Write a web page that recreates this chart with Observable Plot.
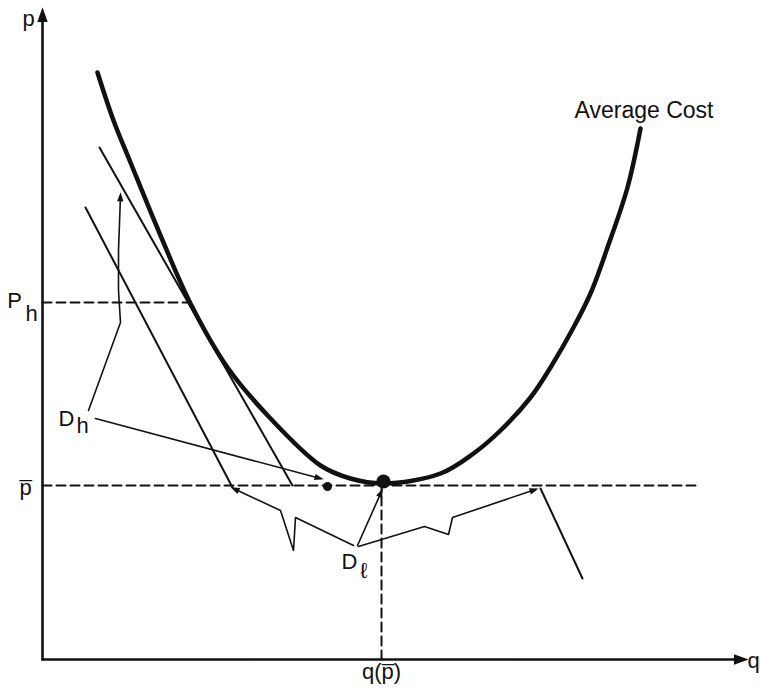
<!DOCTYPE html>
<html><head><meta charset="utf-8">
<script src="https://cdn.jsdelivr.net/npm/d3@7"></script>
<script src="https://cdn.jsdelivr.net/npm/@observablehq/plot@0.6"></script>
<style>body{margin:0;background:#fff}#chart svg{display:block}</style>
</head><body><div id="chart"></div>
<script>
// Average cost curve (q, p)
const acQ = [0.55,0.71,0.88,1.18,1.48,1.85,2.28,2.78,3.08,3.41,3.98,4.31,4.58,4.88,5.08,5.31,5.48,5.65,5.85,5.98];
const acP = [5.87,5.39,4.97,4.24,3.56,2.92,2.41,1.94,1.81,1.76,1.86,2.06,2.29,2.62,2.92,3.32,3.66,4.12,4.72,5.31];

// key levels
const pBar = 1.74, qBar = 3.39, pHigh = 3.57, qHigh = 1.46, qDashEnd = 6.53;

// demand curves (segments)
const demandQ1 = [0.57, 2.50], demandP1 = [5.12, 1.74];
const demandQ2 = [0.43, 1.90], demandP2 = [4.52, 1.72];
const demandQ3 = [4.98, 5.40], demandP3 = [1.71, 0.81];

// annotation leaders
const dhUpQ = [0.46,0.78,0.76,0.76,0.78], dhUpP = [2.49,3.37,3.69,4.09,4.64];
const dhRightQ = [0.53,2.78], dhRightP = [2.41,1.81];
const dlUpQ = [3.15,3.39], dlUpP = [1.14,1.68];
const dlLeftQ = [3.11,2.53,2.51,2.38,1.91], dlLeftP = [1.14,1.42,1.09,1.49,1.71];
const dlRightQ = [3.16,3.82,4.06,4.10,4.93], dlRightP = [1.13,1.33,1.25,1.42,1.70];

// points
const dotQ = [2.85, 3.41], dotP = [1.73, 1.78], dotR = [4.5, 7];

// labels
const labelText = ["p", "q", "p\u0305", "P", "h", "D", "h", "D", "\u2113", "q(p\u0305)", "Average Cost"];
const labelQ = [-0.14, 7.11, -0.17, -0.28, -0.11, 0.24, 0.40, 3.07, 3.21, 3.39, 5.32];
const labelP = [6.41, -0.01, 1.72, 3.59, 3.46, 2.41, 2.34, 0.98, 0.89, -0.12, 5.49];
const labelAnchor = ["middle","middle","middle","middle","middle","middle","middle","middle","middle","middle","start"];

const pts = (qs, ps) => qs.map((q, i) => ({q, p: ps[i]}));
const ac = pts(acQ, acP);
const labels = labelText.map((t, i) => ({t, q: labelQ[i], p: labelP[i], a: labelAnchor[i]}));
const dots = dotQ.map((q, i) => ({q, p: dotP[i], r: dotR[i]}));

const lineOpts = {x: "q", y: "p", stroke: "#111", strokeWidth: 1.6, markerEnd: "arrow"};

const chart = Plot.plot({
  width: 760, height: 688,
  marginTop: 0, marginRight: 0, marginBottom: 0, marginLeft: 0,
  x: {domain: [-0.42, 7.18], range: [0, 760], axis: null},
  y: {domain: [-0.29, 6.59], range: [688, 0], axis: null},
  r: {type: "identity"},
  style: {fontFamily: "'Liberation Sans', Arial, Helvetica, sans-serif", background: "#fff"},
  marks: [
    // axes
    Plot.line(pts([0, 0], [0, 6.47]), {x: "q", y: "p", stroke: "#111", strokeWidth: 2.6, markerEnd: "arrow"}),
    Plot.line(pts([0, 7.01], [0, 0]), {x: "q", y: "p", stroke: "#111", strokeWidth: 2.6, markerEnd: "arrow"}),
    // dashed guides
    Plot.line(pts([0, qDashEnd], [pBar, pBar]), {x: "q", y: "p", stroke: "#111", strokeWidth: 2, strokeDasharray: "9,5"}),
    Plot.line(pts([0, qHigh], [pHigh, pHigh]), {x: "q", y: "p", stroke: "#111", strokeWidth: 2, strokeDasharray: "9,5"}),
    Plot.line(pts([qBar, qBar], [0, pBar]), {x: "q", y: "p", stroke: "#111", strokeWidth: 2, strokeDasharray: "9,5"}),
    // average cost
    Plot.line(ac, {x: "q", y: "p", curve: "catmull-rom", stroke: "#111", strokeWidth: 4.5}),
    // demand curves
    Plot.line(pts(demandQ1, demandP1), {x: "q", y: "p", stroke: "#111", strokeWidth: 2}),
    Plot.line(pts(demandQ2, demandP2), {x: "q", y: "p", stroke: "#111", strokeWidth: 2}),
    Plot.line(pts(demandQ3, demandP3), {x: "q", y: "p", stroke: "#111", strokeWidth: 2}),
    // annotation leaders
    Plot.line(pts(dhUpQ, dhUpP), lineOpts),
    Plot.line(pts(dhRightQ, dhRightP), lineOpts),
    Plot.line(pts(dlUpQ, dlUpP), lineOpts),
    Plot.line(pts(dlLeftQ, dlLeftP), lineOpts),
    Plot.line(pts(dlRightQ, dlRightP), lineOpts),
    // dots
    Plot.dot(dots, {x: "q", y: "p", r: "r", fill: "#111", stroke: "none"}),
    // labels
    Plot.text(labels.filter(d => d.a === "middle"), {x: "q", y: "p", text: "t", fontSize: 22, fill: "#111", textAnchor: "middle", lineAnchor: "middle"}),
    Plot.text(labels.filter(d => d.a === "start"), {x: "q", y: "p", text: "t", fontSize: 23, fill: "#111", textAnchor: "start", lineAnchor: "middle"})
  ]
});

// turn Plot's chevron arrow markers into filled heads
chart.querySelectorAll("marker").forEach(m => {
  const c = m.getAttribute("stroke") || "#111";
  m.setAttribute("fill", c);
  m.setAttribute("stroke", "none");
  m.setAttribute("overflow", "visible");
  const p = m.querySelector("path");
  if (p) p.setAttribute("d", "M-5.5,-3L3,0L-5.5,3Z");
});
document.getElementById("chart").append(chart);
</script>
</body></html>
